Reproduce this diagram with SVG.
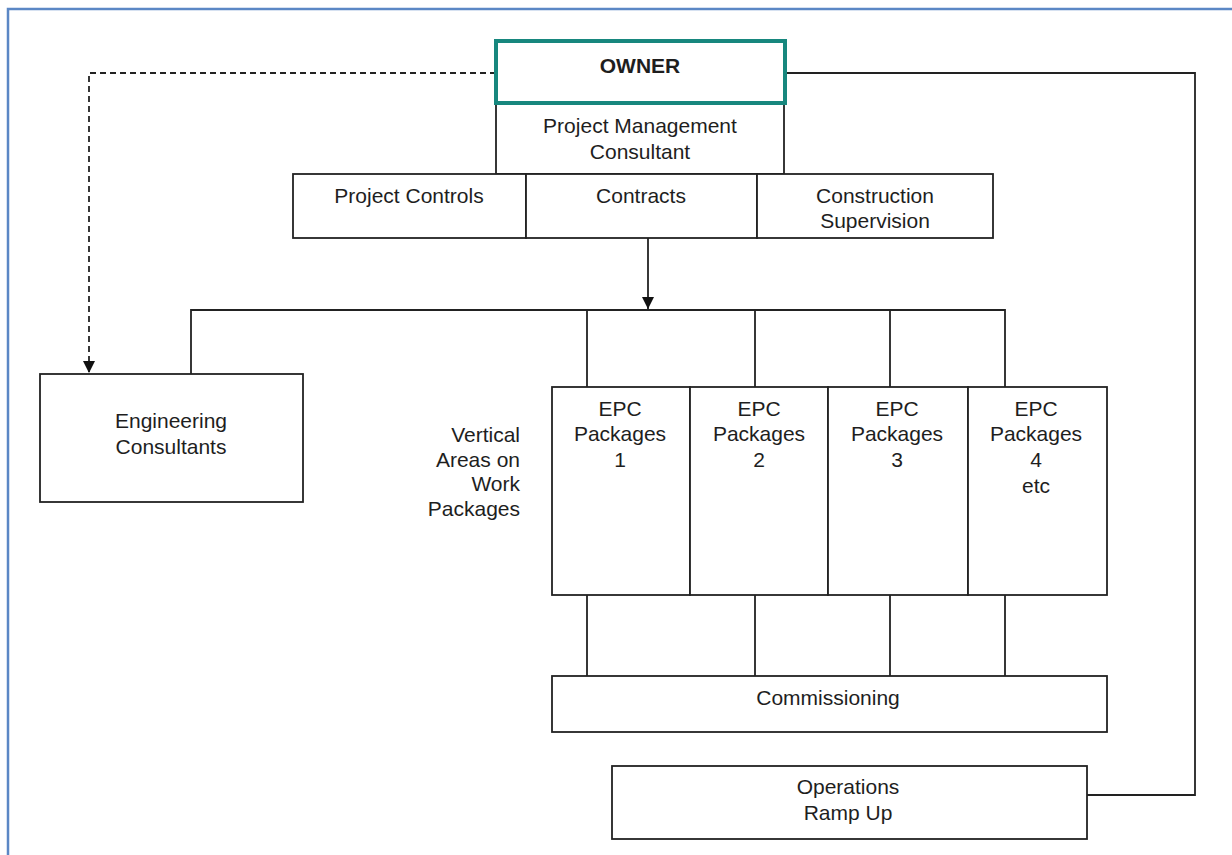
<svg xmlns="http://www.w3.org/2000/svg" width="1232" height="855" viewBox="0 0 1232 855">
<defs>
<style>
.box{fill:#fff;stroke:#222;stroke-width:1.8}
.owner{fill:#fff;stroke:#17877e;stroke-width:4}
.t{font-family:"Liberation Sans",Arial,sans-serif;font-size:21px;fill:#1e1e1e;text-anchor:middle}
.b{font-weight:bold}
.r{text-anchor:end}
.ln{fill:none;stroke:#222;stroke-width:1.8}
.dash{fill:none;stroke:#222;stroke-width:1.8;stroke-dasharray:6,4}
</style>
<marker id="arr" markerWidth="12" markerHeight="12" refX="10" refY="5" orient="auto" markerUnits="userSpaceOnUse" viewBox="0 0 10 10">
<path d="M0,0 L10,5 L0,10 Z" fill="#111"/>
</marker>
</defs>
<rect width="1232" height="855" fill="#fff"/>
<path d="M8,856 V9 H1233" fill="none" stroke="#5b87c5" stroke-width="2.5"/>

<g id="connectors">
<path class="dash" d="M496,73 H89 V373" marker-end="url(#arr)"/>
<path class="ln" d="M785,73 H1195 V795 H1087"/>
<path class="ln" d="M648,238 V309" marker-end="url(#arr)"/>
<path class="ln" d="M191,374 V310 H1005 V387"/>
<path class="ln" d="M587,310 V387 M755,310 V387 M890,310 V387"/>
<path class="ln" d="M587,595 V676 M755,595 V676 M890,595 V676 M1005,595 V676"/>
</g>

<g id="pmc">
<rect class="box" x="496" y="103" width="288" height="71"/>
<text class="t" x="640" y="133">Project Management</text>
<text class="t" x="640" y="159">Consultant</text>
</g>
<g id="owner">
<rect class="owner" x="496" y="41" width="289" height="62"/>
<text class="t b" x="640" y="73">OWNER</text>
</g>
<g id="project-controls">
<rect class="box" x="293" y="174" width="233" height="64"/>
<text class="t" x="409" y="203">Project Controls</text>
</g>
<g id="contracts">
<rect class="box" x="526" y="174" width="231" height="64"/>
<text class="t" x="641" y="203">Contracts</text>
</g>
<g id="construction-supervision">
<rect class="box" x="757" y="174" width="236" height="64"/>
<text class="t" x="875" y="203">Construction</text>
<text class="t" x="875" y="228">Supervision</text>
</g>
<g id="engineering-consultants">
<rect class="box" x="40" y="374" width="263" height="128"/>
<text class="t" x="171" y="428">Engineering</text>
<text class="t" x="171" y="454">Consultants</text>
</g>
<g id="vertical-label">
<text class="t r" x="520" y="442">Vertical</text>
<text class="t r" x="520" y="467">Areas on</text>
<text class="t r" x="520" y="491">Work</text>
<text class="t r" x="520" y="516">Packages</text>
</g>
<g id="epc1">
<rect class="box" x="552" y="387" width="138" height="208"/>
<text class="t" x="620" y="416">EPC</text>
<text class="t" x="620" y="441">Packages</text>
<text class="t" x="620" y="467">1</text>
</g>
<g id="epc2">
<rect class="box" x="690" y="387" width="138" height="208"/>
<text class="t" x="759" y="416">EPC</text>
<text class="t" x="759" y="441">Packages</text>
<text class="t" x="759" y="467">2</text>
</g>
<g id="epc3">
<rect class="box" x="828" y="387" width="140" height="208"/>
<text class="t" x="897" y="416">EPC</text>
<text class="t" x="897" y="441">Packages</text>
<text class="t" x="897" y="467">3</text>
</g>
<g id="epc4">
<rect class="box" x="968" y="387" width="139" height="208"/>
<text class="t" x="1036" y="416">EPC</text>
<text class="t" x="1036" y="441">Packages</text>
<text class="t" x="1036" y="467">4</text>
<text class="t" x="1036" y="493">etc</text>
</g>
<g id="commissioning">
<rect class="box" x="552" y="676" width="555" height="56"/>
<text class="t" x="828" y="705">Commissioning</text>
</g>
<g id="operations">
<rect class="box" x="612" y="766" width="475" height="73"/>
<text class="t" x="848" y="794">Operations</text>
<text class="t" x="848" y="820">Ramp Up</text>
</g>
</svg>
